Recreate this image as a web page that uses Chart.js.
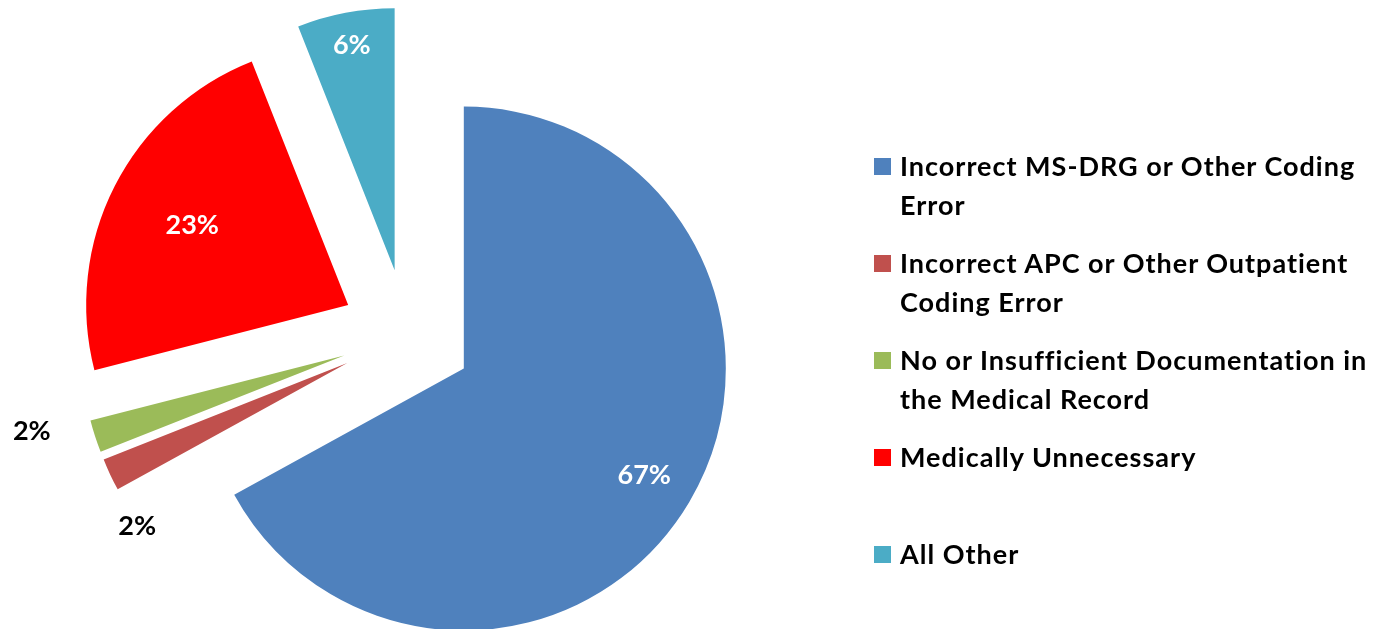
<!DOCTYPE html>
<html lang="en">
<head>
<meta charset="UTF-8">
<title>Error types</title>
<style>
  body { margin: 0; background: #fff; }
  .wrap { position: relative; width: 1379px; height: 629px; }
  #legend {
    position: absolute; left: 874px; top: 146px; margin: 0; padding: 0; list-style: none;
    font-family: Lato, "Open Sans", sans-serif; font-weight: 700; font-size: 27px;
    letter-spacing: 1px; line-height: 39px; color: #000;
  }
  #legend li { position: relative; height: 97px; padding-left: 26px; white-space: nowrap; }
  #legend .box { position: absolute; left: 0; top: 12px; width: 17px; height: 17px; }
</style>
<script src="https://cdn.jsdelivr.net/npm/chart.js"></script>
</head>
<body>
<div class="wrap">
  <canvas id="pie"></canvas>
  <ul id="legend"></ul>
</div>

<script>
// chart data
const categories = [
  ['Incorrect MS-DRG or Other Coding', 'Error'],
  ['Incorrect APC or Other Outpatient', 'Coding Error'],
  ['No or Insufficient Documentation in', 'the Medical Record'],
  ['Medically Unnecessary'],
  ['All Other']
];
const shares = [67, 2, 2, 23, 6];
const colors = ['#4F81BD', '#C0504D', '#9BBB59', '#FF0000', '#4BACC6'];

// chart.js grows and narrows offset slices when it draws them,
// undo that so every slice keeps the same radius and its real angle
const evenRadius = {
  id: 'evenRadius',
  afterDatasetsUpdate(chart) {
    chart.getDatasetMeta(0).data.forEach(arc => {
      const shift = (arc.options.offset || 0) / 4;
      const grow = shift * (1 - Math.sin(Math.min(Math.PI, arc.circumference)));
      arc.outerRadius -= grow;
      const widen = grow / (Math.PI * (arc.outerRadius + grow)) / 2;
      arc.startAngle -= widen;
      arc.endAngle += widen;
    });
  }
};

// percent labels, placed from each slice's (exploded) tip
const sliceLabels = {
  id: 'sliceLabels',
  afterDatasetsDraw(chart, args, opts) {
    const ctx = chart.ctx;
    const meta = chart.getDatasetMeta(0);
    const R = meta.controller.outerRadius;
    const vals = chart.data.datasets[0].data;
    const total = vals.reduce((a, b) => a + b, 0);
    ctx.save();
    ctx.font = opts.font;
    ctx.textAlign = 'center';
    ctx.textBaseline = 'middle';
    meta.data.forEach((arc, i) => {
      const mid = (arc.startAngle + arc.endAngle) / 2;
      const shift = (arc.options.offset || 0) / 4;
      const tx = arc.x + Math.cos(mid) * shift;
      const ty = arc.y + Math.sin(mid) * shift;
      const a = mid + opts.turn[i] * Math.PI / 180;
      const r = R * opts.dist[i];
      ctx.fillStyle = opts.color[i];
      ctx.fillText(Math.round(vals[i] / total * 100) + '%', tx + Math.cos(a) * r, ty + Math.sin(a) * r);
    });
    ctx.restore();
  }
};

new Chart(document.getElementById('pie'), {
  type: 'pie',
  data: {
    labels: categories,
    datasets: [{
      data: shares,
      backgroundColor: colors,
      borderWidth: 0,
      offset: 264,
      radius: 262
    }]
  },
  options: {
    responsive: true,
    maintainAspectRatio: false,
    animation: false,
    events: [],
    layout: { padding: { left: 0, top: 41, right: 565, bottom: 0 } },
    plugins: {
      legend: { display: false },
      tooltip: { enabled: false },
      sliceLabels: {
        font: 'bold 27px Lato, "Open Sans", sans-serif',
        color: ['#fff', '#000', '#000', '#fff', '#fff'],
        dist: [0.80, 1.015, 1.227, 0.668, 0.872],
        turn: [0, -12.6, 4.4, 0, 0]
      }
    }
  },
  plugins: [evenRadius, sliceLabels]
});

// html legend
const legend = document.getElementById('legend');
categories.forEach((lines, i) => {
  const li = document.createElement('li');
  const box = document.createElement('span');
  box.className = 'box';
  box.style.background = colors[i];
  li.appendChild(box);
  lines.forEach((t, j) => {
    if (j) li.appendChild(document.createElement('br'));
    li.appendChild(document.createTextNode(t));
  });
  legend.appendChild(li);
});
</script>
</body>
</html>
